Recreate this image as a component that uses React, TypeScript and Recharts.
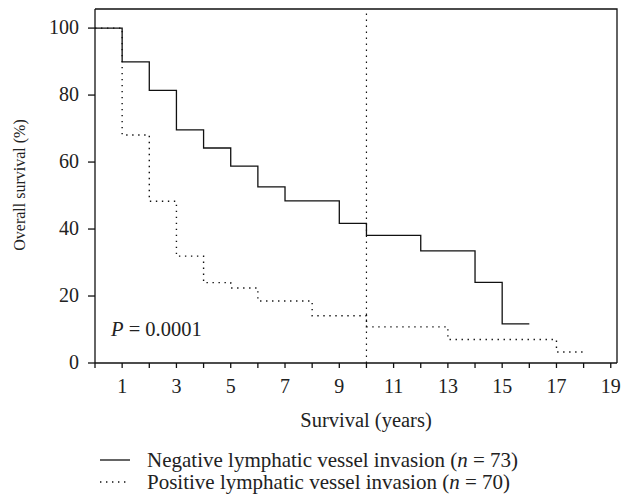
import React from 'react';
import {
  LineChart,
  Line,
  XAxis,
  YAxis,
  ReferenceLine,
} from 'recharts';

// Kaplan-Meier steps (years, % surviving)
const negYears = [0, 1, 2, 3, 4, 5, 6, 7, 9, 10, 12, 14, 15, 16];
const negSurvival = [100, 89.9, 81.4, 69.6, 64.2, 58.8, 52.6, 48.4, 41.7, 38.1, 33.5, 24.1, 11.7, 11.7];

const posYears = [0, 1, 2, 3, 4, 5, 6, 8, 10, 13, 17, 18];
const posSurvival = [100, 68.1, 48.3, 31.9, 24.0, 22.4, 18.5, 14.1, 10.8, 7.0, 3.3, 3.3];

const xTicks = [0, 1, 2, 3, 4, 5, 6, 7, 8, 9, 10, 11, 12, 13, 14, 15, 16, 17, 18, 19];
const yTicks = [0, 20, 40, 60, 80, 100];
const cutoffYear = 10;

const legendLabels = ['Negative lymphatic vessel invasion', 'Positive lymphatic vessel invasion'];
const legendCounts = [73, 70];

const X_MAX = 19.23;
const Y_MAX = 105.7;

const W = 628;
const H = 497;
const MARGIN = { top: 9, right: 11, bottom: 74, left: 0 };
const Y_AXIS_W = 95;
const X_AXIS_H = 60;

const FONT = '"Liberation Serif", "DejaVu Serif", serif';
const DOTS = '1.4 4.6';

const negData = negYears.map((t, i) => ({ t, v: negSurvival[i] }));
const posData = posYears.map((t, i) => ({ t, v: posSurvival[i] }));

// plot box edges, same numbers the chart margins use
const boxLeft = MARGIN.left + Y_AXIS_W;
const boxRight = W - MARGIN.right;
const boxTop = MARGIN.top;
const boxBottom = H - MARGIN.bottom - X_AXIS_H;

// only odd years get a label, every year gets a tick mark
const XTick = (props: any) => {
  const { x, y, payload } = props;
  if (payload.value % 2 !== 1) return <g />;
  return (
    <text x={x} y={y + 25} textAnchor="middle" fontFamily={FONT} fontSize={20} fill="#222">
      {payload.value}
    </text>
  );
};

const YTick = (props: any) => {
  const { x, y, payload } = props;
  return (
    <text x={x} y={y + 6} textAnchor="end" fontFamily={FONT} fontSize={20} fill="#222">
      {payload.value}
    </text>
  );
};

const App: React.FC = () => {
  return (
    <div style={{ position: 'absolute', left: 0, top: 0, width: W, height: H, background: '#fff' }}>
      <LineChart width={W} height={H} margin={MARGIN}>
        <XAxis
          dataKey="t"
          type="number"
          domain={[0, X_MAX]}
          ticks={xTicks}
          interval={0}
          height={X_AXIS_H}
          tickSize={5}
          tickMargin={0}
          tick={<XTick />}
          stroke="#111"
          strokeWidth={1.3}
          allowDataOverflow
        />
        <YAxis
          type="number"
          domain={[0, Y_MAX]}
          ticks={yTicks}
          width={Y_AXIS_W}
          tickSize={7}
          tickMargin={9}
          tick={<YTick />}
          stroke="#111"
          strokeWidth={1.3}
          allowDataOverflow
        />
        <ReferenceLine x={cutoffYear} stroke="#111" strokeWidth={1.2} strokeDasharray={DOTS} />
        <Line
          data={posData}
          dataKey="v"
          type="stepAfter"
          stroke="#111"
          strokeWidth={1.4}
          strokeDasharray={DOTS}
          dot={false}
          isAnimationActive={false}
        />
        <Line
          data={negData}
          dataKey="v"
          type="stepAfter"
          stroke="#111"
          strokeWidth={1.3}
          dot={false}
          isAnimationActive={false}
        />
      </LineChart>

      {/* top and right sides of the box */}
      <svg width={W} height={H} style={{ position: 'absolute', left: 0, top: 0, pointerEvents: 'none' }}>
        <path
          d={`M${boxLeft},${boxTop}H${boxRight}V${boxBottom}`}
          fill="none"
          stroke="#111"
          strokeWidth={1.3}
        />
      </svg>

      {/* axis titles and annotation */}
      <div style={{ position: 'absolute', left: 20, top: 185, transform: 'translate(-50%, -50%) rotate(-90deg)', whiteSpace: 'nowrap', fontFamily: FONT, fontSize: 16, color: '#222' }}>
        Overall survival (%)
      </div>
      <div style={{ position: 'absolute', left: 366, top: 420, transform: 'translate(-50%, -50%)', whiteSpace: 'nowrap', fontFamily: FONT, fontSize: 20.5, color: '#222' }}>
        Survival (years)
      </div>
      <div style={{ position: 'absolute', left: 111, top: 329, transform: 'translateY(-50%)', whiteSpace: 'nowrap', fontFamily: FONT, fontSize: 20.5, color: '#222' }}>
        <i>P</i> = 0.0001
      </div>

      {/* legend */}
      {legendLabels.map((label, i) => (
        <div
          key={label}
          style={{ position: 'absolute', left: 100, top: (i === 0 ? 460 : 482) - 11, height: 22, display: 'flex', alignItems: 'center', whiteSpace: 'nowrap', fontFamily: FONT, fontSize: 21, color: '#222' }}
        >
          <svg width={30} height={22} style={{ marginRight: 17 }}>
            <line x1={0} x2={30} y1={11} y2={11} stroke="#111" strokeWidth={1.3} strokeDasharray={i === 0 ? undefined : DOTS} />
          </svg>
          <span>
            {label} (<i>n</i> = {legendCounts[i]})
          </span>
        </div>
      ))}
    </div>
  );
};

export default App;
